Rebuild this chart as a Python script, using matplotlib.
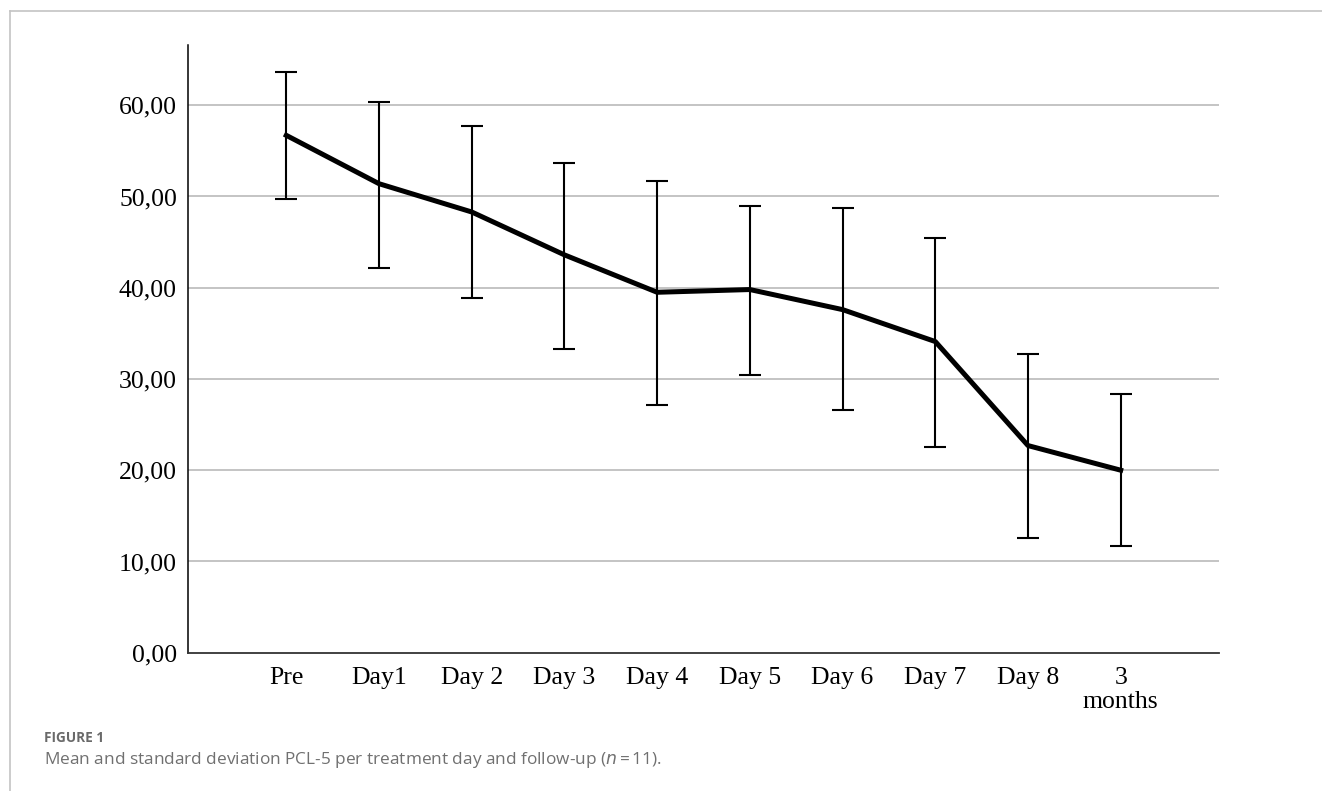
import matplotlib
matplotlib.use("Agg")
import matplotlib.pyplot as plt
from matplotlib.lines import Line2D
import numpy as np

categories = ["Pre", "Day1", "Day 2", "Day 3", "Day 4", "Day 5", "Day 6", "Day 7", "Day 8", "3\nmonths"]
means = [56.7, 51.4, 48.3, 43.6, 39.5, 39.8, 37.6, 34.1, 22.7, 20.0]
upper = [63.6, 60.4, 57.7, 53.7, 51.65, 49.0, 48.7, 45.5, 32.7, 28.4]
lower = [49.7, 42.2, 38.9, 33.3, 27.2, 30.4, 26.6, 22.5, 12.6, 11.7]
yticks = [0, 10, 20, 30, 40, 50, 60]
ytick_labels = ["0,00", "10,00", "20,00", "30,00", "40,00", "50,00", "60,00"]

fig = plt.figure(figsize=(13.22, 7.91), dpi=100)
ax = fig.add_axes([188/1322, 1-652.7/791, (1219-188)/1322, (652.7-45)/791])

x = np.arange(len(categories))
m = np.array(means)
yerr = np.vstack([m - np.array(lower), np.array(upper) - m])

for yv in yticks[1:]:
    ax.axhline(yv, color="#b4b4b4", lw=1.1, zorder=1)

ax.errorbar(x, m, yerr=yerr, fmt="none", ecolor="black", elinewidth=1.5,
            capsize=8.2, capthick=1.5, zorder=3)
ax.plot(x, m, color="black", lw=3.6, zorder=4, solid_joinstyle="round")

ax.set_xlim(-1.06, 10.06)
ax.set_ylim(0, 66.6)
ax.set_yticks(yticks)
ax.set_yticklabels(ytick_labels)
ax.set_xticks(x)
ax.set_xticklabels(categories, linespacing=1.15)
for lab in ax.get_xticklabels() + ax.get_yticklabels():
    lab.set_fontfamily("Liberation Serif")
    lab.set_fontsize(18.5)
    lab.set_color("black")
ax.tick_params(axis="both", length=0)
ax.tick_params(axis="y", pad=8)
ax.tick_params(axis="x", pad=10)

for s in ["top", "right"]:
    ax.spines[s].set_visible(False)
ax.spines["left"].set_color("black")
ax.spines["left"].set_linewidth(1.1)
ax.spines["bottom"].set_color("#333333")
ax.spines["bottom"].set_linewidth(1.3)

# page frame
fig.add_artist(Line2D([10/1322, 1.0], [1-11/791, 1-11/791], color="#c4c4c4", lw=1.2, transform=fig.transFigure))
fig.add_artist(Line2D([10/1322, 10/1322], [1-11/791, 0.0], color="#c4c4c4", lw=1.2, transform=fig.transFigure))

fig.text(44/1322, 1-741.7/791, "FIGURE 1", fontfamily="Open Sans", fontweight="bold",
         fontsize=9.8, color="#6a6a6a", va="baseline")
fig.text(44/1322, 1-764.3/791,
         "Mean and standard deviation PCL-5 per treatment day and follow-up ($\\it{n}$\u2009=\u200911).",
         fontfamily=["Open Sans", "DejaVu Sans"], fontsize=12.4, color="#707070", va="baseline")

fig.savefig("out.png", dpi=100)
